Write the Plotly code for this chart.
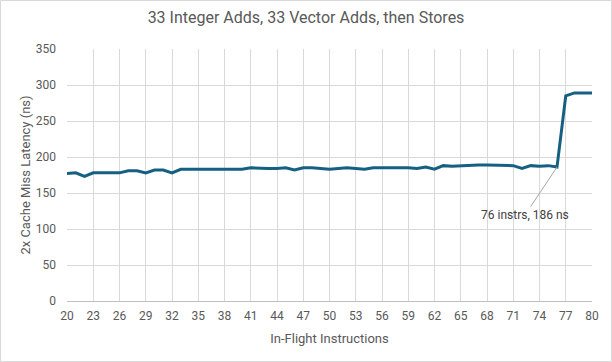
import plotly.graph_objects as go

instructions = list(range(20, 81))
latency_ns = [177, 178, 173, 178, 178, 178, 178, 181, 181, 178,
              182, 182, 178, 183, 183, 183, 183, 183, 183, 183,
              183, 185, 184, 184, 184, 185, 182, 185, 185, 184,
              183, 184, 185, 184, 183, 185, 185, 186, 185, 185,
              184, 186, 183, 188, 187, 188, 189, 189, 189, 189,
              189, 188, 184, 188, 187, 188, 186, 285, 289, 289,
              289]
title_text = "33 Integer Adds, 33 Vector Adds, then Stores"
x_title = "In-Flight Instructions"
y_title = "2x Cache Miss Latency (ns)"
note_x, note_y = 76, 186
note_text = "76 instrs, 186 ns"

W, H = 612, 362
L, R, T, B = 67, 20, 49, 61
pw, ph = W - L - R, H - T - B

font_main = "Roboto, sans-serif"
grey = "#595959"

fig = go.Figure()
fig.add_trace(go.Scatter(x=instructions, y=latency_ns, mode="lines",
                         line=dict(color="#156082", width=3), hoverinfo="x+y"))

fig.add_annotation(x=note_x, y=note_y, text=note_text, showarrow=True,
                   arrowhead=0, arrowwidth=1, arrowcolor="#a6a6a6",
                   ax=-32, ay=48, font=dict(family=font_main, size=12, color="#404040"))

fig.add_shape(type="rect", xref="paper", yref="paper",
              x0=(0.5 - L) / pw, x1=(W - 0.5 - L) / pw,
              y0=-(B - 0.5) / ph, y1=1 + (T - 0.5) / ph,
              line=dict(color="#d9d9d9", width=1), fillcolor="rgba(0,0,0,0)", layer="below")

fig.update_layout(
    width=W, height=H, margin=dict(l=L, r=R, t=T, b=B, autoexpand=False),
    paper_bgcolor="white", plot_bgcolor="white", showlegend=False,
    title=dict(text=title_text, x=0.5, xanchor="center", y=1 - 17 / H, yanchor="middle",
               font=dict(family=font_main, size=16, color=grey)),
    xaxis=dict(range=[20, 80], tickmode="linear", tick0=20, dtick=3, automargin=False,
               showgrid=True, gridcolor="#d9d9d9", gridwidth=1,
               showline=True, linecolor="#bfbfbf", linewidth=1, zeroline=False,
               ticks="", ticklabelstandoff=4, tickfont=dict(family=font_main, size=12, color=grey),
               title=dict(text=x_title, font=dict(family=font_main, size=13, color=grey), standoff=11)),
    yaxis=dict(range=[0, 350], tickmode="linear", tick0=0, dtick=50, automargin=False,
               showgrid=True, gridcolor="#d9d9d9", gridwidth=1,
               showline=False, zeroline=False, ticks="", ticklabelstandoff=10,
               tickfont=dict(family=font_main, size=12, color=grey),
               title=dict(text=y_title, font=dict(family=font_main, size=13, color=grey), standoff=2)),
)

fig.write_html("out.html", config={"displayModeBar": False},
               post_script="document.body.style.margin='0';")
